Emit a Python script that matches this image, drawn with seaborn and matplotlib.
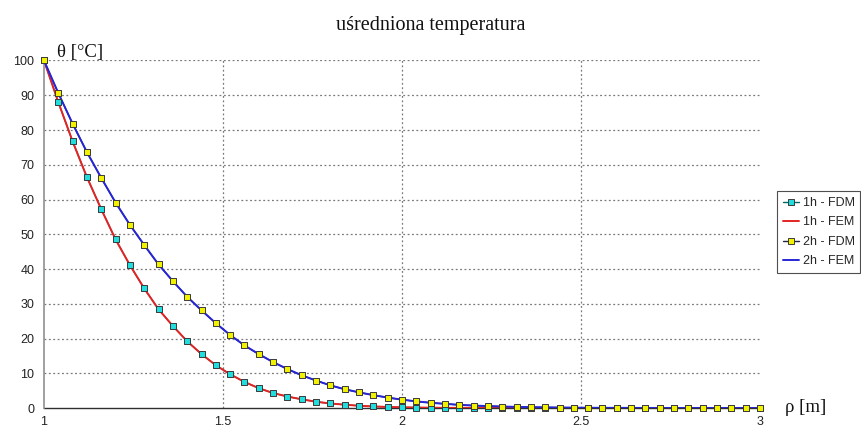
import matplotlib
matplotlib.use("Agg")
import matplotlib.pyplot as plt
from matplotlib.lines import Line2D
import seaborn as sns
import pandas as pd

# radial coordinate rho [m], step 0.04
rho = [round(1.0 + 0.04 * i, 2) for i in range(51)]

# averaged temperature after 1 h (finite differences)
fdm_1h = [100, 88.0, 76.7, 66.4, 57.2, 48.5, 41.1, 34.4, 28.4, 23.6,
          19.2, 15.5, 12.3, 9.7, 7.5, 5.7, 4.3, 3.3, 2.5, 1.8,
          1.3, 0.95, 0.65, 0.45, 0.3, 0.2, 0.13, 0.08, 0.05, 0.03,
          0.02, 0.01, 0, 0, 0, 0, 0, 0, 0, 0,
          0, 0, 0, 0, 0, 0, 0, 0, 0, 0, 0]
# averaged temperature after 1 h (finite elements)
fem_1h = [100, 88.0, 76.7, 66.4, 57.2, 48.5, 41.1, 34.4, 28.4, 23.6,
          19.2, 15.5, 12.3, 9.7, 7.5, 5.7, 4.3, 3.3, 2.5, 1.8,
          1.3, 0.95, 0.65, 0.45, 0.3, 0.2, 0.13, 0.08, 0.05, 0.03,
          0.02, 0.01, 0, 0, 0, 0, 0, 0, 0, 0,
          0, 0, 0, 0, 0, 0, 0, 0, 0, 0, 0]
# averaged temperature after 2 h (finite differences)
fdm_2h = [100, 90.6, 81.8, 73.6, 66.2, 59.1, 52.7, 46.9, 41.3, 36.5,
          32.0, 28.1, 24.4, 21.0, 18.0, 15.5, 13.2, 11.2, 9.4, 7.9,
          6.5, 5.4, 4.5, 3.7, 3.0, 2.4, 1.9, 1.5, 1.2, 0.9,
          0.7, 0.55, 0.42, 0.32, 0.24, 0.18, 0.13, 0.1, 0.07, 0.05,
          0.04, 0.03, 0.02, 0.01, 0, 0, 0, 0, 0, 0, 0]
# averaged temperature after 2 h (finite elements)
fem_2h = [100, 90.6, 81.8, 73.6, 66.2, 59.1, 52.7, 46.9, 41.3, 36.5,
          32.0, 28.1, 24.4, 21.0, 18.0, 15.5, 13.2, 11.2, 9.4, 7.9,
          6.5, 5.4, 4.5, 3.7, 3.0, 2.4, 1.9, 1.5, 1.2, 0.9,
          0.7, 0.55, 0.42, 0.32, 0.24, 0.18, 0.13, 0.1, 0.07, 0.05,
          0.04, 0.03, 0.02, 0.01, 0, 0, 0, 0, 0, 0, 0]

labels = ["1h - FDM", "1h - FEM", "2h - FDM", "2h - FEM"]
x_ticks = [1, 1.5, 2, 2.5, 3]
x_tick_labels = ["1", "1.5", "2", "2.5", "3"]
y_ticks = list(range(0, 101, 10))

df = pd.DataFrame({"rho": rho, "fdm_1h": fdm_1h, "fem_1h": fem_1h,
                   "fdm_2h": fdm_2h, "fem_2h": fem_2h})

sns.set_style("white")
plt.rcParams["font.family"] = ["Liberation Sans", "DejaVu Sans"]

fig = plt.figure(figsize=(8.61, 4.34), dpi=100)
ax = fig.add_axes([0.0511, 0.0599, 0.8316, 0.8007])

c_cyan = "#22DDDD"
c_yellow = "#F2F200"
c_red = "#E42424"
c_blue = "#2626D6"
c_edge = "#3A3A3A"
c_fdm1 = "#006666"
c_fdm2 = "#222244"

# FDM polylines (underneath)
sns.lineplot(data=df, x="rho", y="fdm_1h", ax=ax, color=c_fdm1, lw=1.0, zorder=2)
sns.lineplot(data=df, x="rho", y="fdm_2h", ax=ax, color=c_fdm2, lw=1.0, zorder=2)
# FEM curves
sns.lineplot(data=df, x="rho", y="fem_1h", ax=ax, color=c_red, lw=1.4, zorder=2.5)
sns.lineplot(data=df, x="rho", y="fem_2h", ax=ax, color=c_blue, lw=1.4, zorder=2.6)
# FDM nodes
sns.scatterplot(data=df, x="rho", y="fdm_1h", ax=ax, marker="s", s=16,
                color=c_cyan, edgecolor=c_edge, linewidth=0.7, zorder=3,
                clip_on=False)
sns.scatterplot(data=df, x="rho", y="fdm_2h", ax=ax, marker="s", s=16,
                color=c_yellow, edgecolor=c_edge, linewidth=0.7, zorder=3.1,
                clip_on=False)

ax.set_xlim(1, 3)
ax.set_ylim(0, 100)
ax.set_xticks(x_ticks)
ax.set_xticklabels(x_tick_labels)
ax.set_yticks(y_ticks)
ax.set_xlabel("")
ax.set_ylabel("")
ax.tick_params(axis="both", labelsize=9, colors="#222222", length=3,
               width=0.8, direction="out", pad=4)
ax.tick_params(axis="x", pad=3)

# dotted grid
for yv in y_ticks[1:]:
    ax.axhline(yv, color="#7a7a7a", lw=0.9, ls=(0, (1.5, 2.0)), zorder=1)
for xv in x_ticks[1:-1]:
    ax.axvline(xv, color="#7a7a7a", lw=0.9, ls=(0, (1.5, 2.0)), zorder=1)

for side in ["top", "right"]:
    ax.spines[side].set_visible(False)
ax.spines["left"].set_color("#909090")
ax.spines["left"].set_linewidth(1.2)
ax.spines["bottom"].set_color("#303030")
ax.spines["bottom"].set_linewidth(1.0)
ax.spines["bottom"].set_zorder(1.5)

fig.text(0.5, 0.962, "uśredniona temperatura", ha="center", va="top",
         fontsize=14.5, family=["Liberation Serif", "DejaVu Serif"], color="#111111")
fig.text(0.066, 0.86, "θ [°C]", ha="left", va="bottom", fontsize=13.5,
         family=["Liberation Serif", "DejaVu Serif"], color="#111111")
fig.text(0.912, 0.06, "ρ [m]", ha="left", va="center", fontsize=13.5,
         family=["Liberation Serif", "DejaVu Serif"], color="#111111")

handles = [
    Line2D([], [], color=c_fdm1, lw=1.0, marker="s", markersize=4,
           markerfacecolor=c_cyan, markeredgecolor=c_edge, markeredgewidth=0.7),
    Line2D([], [], color=c_red, lw=1.4),
    Line2D([], [], color=c_fdm2, lw=1.0, marker="s", markersize=4,
           markerfacecolor=c_yellow, markeredgecolor=c_edge, markeredgewidth=0.7),
    Line2D([], [], color=c_blue, lw=1.4),
]
leg = fig.legend(handles, labels, loc="center left",
                 bbox_to_anchor=(0.9025, 0.465), fontsize=9, frameon=True,
                 fancybox=False, handlelength=1.3, handletextpad=0.3,
                 borderpad=0.45, borderaxespad=0, labelspacing=0.6)
leg.get_frame().set_edgecolor("#222222")
leg.get_frame().set_linewidth(0.8)

fig.savefig("out.png", dpi=100)
